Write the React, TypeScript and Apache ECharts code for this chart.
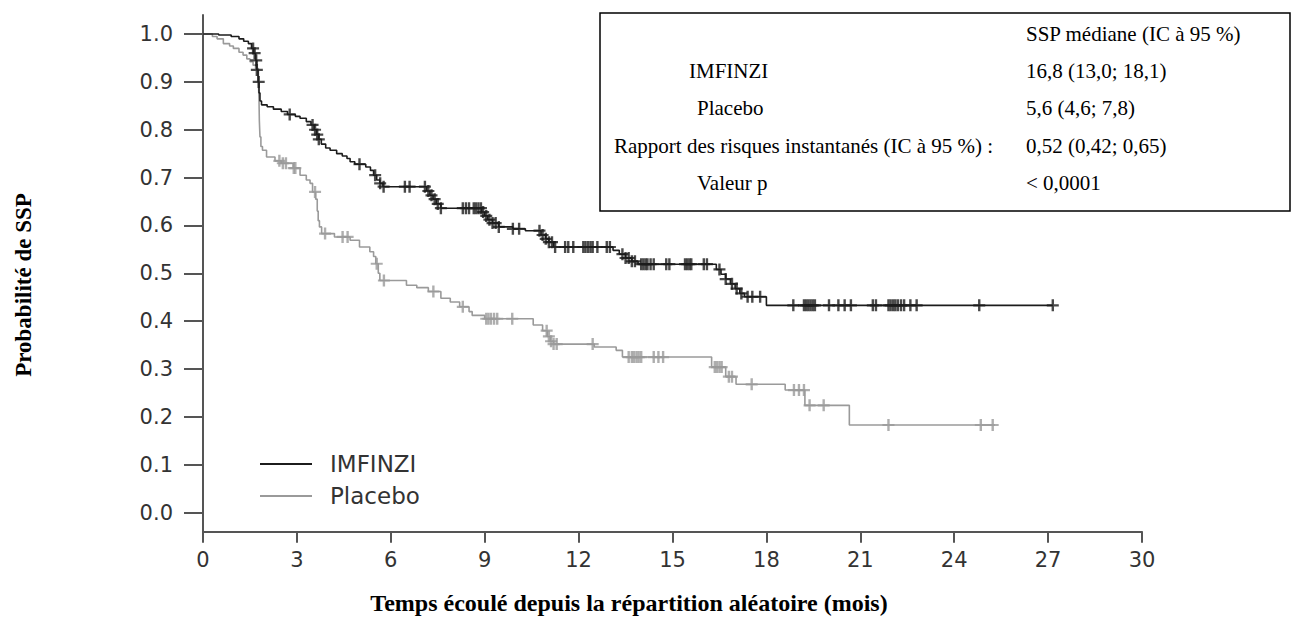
import React, { useEffect, useRef } from "react";
import * as echarts from "echarts";

// ---------- data ----------
const seriesNames = ["IMFINZI", "Placebo"];

const imfTime = [0, 0.5, 0.9, 1.15, 1.3, 1.45, 1.55, 1.62, 1.68, 1.72, 1.76, 1.79, 1.82, 1.87, 2.05, 2.25, 2.5, 2.7, 2.95, 3.1, 3.3, 3.45, 3.55, 3.63, 3.7, 3.78, 3.92, 4.06, 4.27, 4.45, 4.6, 4.7, 4.85, 5.2, 5.35, 5.45, 5.55, 5.65, 5.75, 7.15, 7.25, 7.35, 7.45, 7.6, 8.9, 9.0, 9.1, 9.25, 9.45, 9.9, 10.3, 10.8, 10.95, 11.05, 11.2, 13.1, 13.3, 13.5, 13.7, 13.9, 16.4, 16.55, 16.7, 16.85, 17.0, 17.15, 17.3, 18.0, 27.15];
const imfSurv = [1.0, 0.998, 0.995, 0.99, 0.985, 0.98, 0.97, 0.96, 0.945, 0.925, 0.9, 0.877, 0.86, 0.852, 0.848, 0.843, 0.838, 0.832, 0.828, 0.824, 0.817, 0.81, 0.8, 0.79, 0.78, 0.77, 0.762, 0.757, 0.75, 0.745, 0.74, 0.733, 0.728, 0.722, 0.715, 0.705, 0.695, 0.688, 0.681, 0.672, 0.663, 0.655, 0.645, 0.636, 0.628, 0.62, 0.612, 0.605, 0.597, 0.593, 0.589, 0.58, 0.572, 0.565, 0.555, 0.548, 0.54, 0.532, 0.525, 0.519, 0.508, 0.498, 0.488, 0.478, 0.468, 0.458, 0.451, 0.433, 0.433];
const imfCensor = [1.6, 1.65, 1.7, 1.72, 1.78, 2.77, 3.5, 3.58, 3.65, 3.7, 5.0, 5.5, 5.66, 5.77, 6.45, 6.6, 7.09, 7.2, 7.3, 7.4, 7.5, 7.6, 8.3, 8.4, 8.5, 8.65, 8.72, 8.8, 8.88, 8.95, 9.05, 9.15, 9.25, 9.35, 9.45, 9.9, 10.1, 10.75, 10.85, 10.95, 11.05, 11.15, 11.25, 11.57, 11.67, 11.83, 12.15, 12.22, 12.3, 12.38, 12.45, 12.6, 12.9, 13.0, 13.4, 13.5, 13.6, 13.7, 13.8, 14.0, 14.07, 14.14, 14.2, 14.3, 14.4, 14.8, 14.9, 15.4, 15.47, 15.54, 15.6, 16.0, 16.1, 16.5, 16.7, 16.9, 17.05, 17.2, 17.4, 17.55, 17.8, 18.86, 19.2, 19.27, 19.34, 19.41, 19.48, 19.55, 20.0, 20.3, 20.5, 20.7, 21.4, 21.5, 21.9, 21.97, 22.05, 22.12, 22.2, 22.3, 22.4, 22.6, 22.8, 24.8, 27.15];

const plaTime = [0, 0.3, 0.45, 0.65, 0.85, 0.97, 1.15, 1.28, 1.4, 1.5, 1.6, 1.68, 1.77, 1.79, 1.8, 1.82, 1.85, 1.9, 2.03, 2.3, 2.5, 2.88, 3.1, 3.3, 3.42, 3.5, 3.6, 3.65, 3.68, 3.72, 3.79, 4.2, 4.7, 5.0, 5.33, 5.45, 5.52, 5.6, 5.65, 6.5, 6.83, 7.2, 7.6, 7.9, 8.2, 8.5, 8.6, 9.0, 10.55, 10.85, 11.0, 11.1, 11.2, 12.5, 13.2, 13.4, 16.25, 16.7, 17.03, 18.6, 19.23, 20.65, 25.3];
const plaSurv = [1.0, 0.995, 0.99, 0.98, 0.975, 0.97, 0.962, 0.956, 0.948, 0.942, 0.935, 0.928, 0.9, 0.86, 0.82, 0.785, 0.765, 0.757, 0.743, 0.735, 0.73, 0.72, 0.705, 0.695, 0.688, 0.67, 0.655, 0.63, 0.61, 0.597, 0.583, 0.576, 0.569, 0.555, 0.545, 0.535, 0.52, 0.5, 0.485, 0.475, 0.47, 0.462, 0.448, 0.44, 0.43, 0.42, 0.412, 0.405, 0.392, 0.38, 0.368, 0.358, 0.352, 0.346, 0.339, 0.325, 0.304, 0.284, 0.268, 0.256, 0.224, 0.183, 0.183];
const plaCensor = [2.44, 2.55, 2.65, 2.9, 2.95, 3.58, 3.9, 4.46, 4.62, 5.55, 5.78, 7.36, 8.3, 9.05, 9.12, 9.2, 9.3, 9.4, 9.88, 10.98, 11.05, 11.12, 11.2, 11.3, 12.45, 13.6, 13.7, 13.77, 13.85, 13.92, 14.0, 14.4, 14.55, 14.7, 16.35, 16.42, 16.5, 16.57, 16.8, 16.9, 17.53, 18.88, 19.04, 19.2, 19.38, 19.83, 21.9, 24.85, 25.23];

const yTicks = [0, 0.1, 0.2, 0.3, 0.4, 0.5, 0.6, 0.7, 0.8, 0.9, 1.0];

const boxHeader = "SSP médiane (IC à 95 %)";
const boxLeftLabels = ["IMFINZI", "Placebo", "Rapport des risques instantanés (IC à 95 %) :", "Valeur p"];
const boxValues = ["16,8 (13,0; 18,1)", "5,6 (4,6; 7,8)", "0,52 (0,42; 0,65)", "< 0,0001"];

const xTitle = "Temps écoulé depuis la répartition aléatoire (mois)";
const yTitle = "Probabilité de SSP";

// ---------- helpers ----------
const stepAt = (times: number[], surv: number[], t: number) => {
  let s = surv[0];
  for (let i = 0; i < times.length; i++) if (times[i] <= t) s = surv[i];
  return s;
};
const pairs = (times: number[], surv: number[]) => times.map((t, i) => [t, surv[i]]);
const censorPts = (c: number[], times: number[], surv: number[]) => c.map((t) => [t, stepAt(times, surv, t)]);

const COLORS = ["#1c1c1c", "#9a9a9a"];
const AXIS = "#555555";
const PLUS = "path://M4.8,0H7.2V4.9H12V7.1H7.2V12H4.8V7.1H0V4.9H4.8Z";

const leftX = [689, 697, 614, 697];
const rowY = [34, 71, 108, 146, 183];

export default function App() {
  const ref = useRef<HTMLDivElement>(null);
  useEffect(() => {
    if (!ref.current) return;
    const chart = echarts.init(ref.current, null, { renderer: "svg" });
    const serif = '"Liberation Serif", "Times New Roman", serif';
    const sans = '"DejaVu Sans", Arial, sans-serif';
    const txt = (x: number, y: number, text: string) => ({
      type: "text", x, y, z: 20,
      style: { text, fontFamily: serif, fontSize: 21, fill: "#000", align: "left", verticalAlign: "middle" },
    });
    const boxTexts: any[] = [txt(1026, rowY[0], boxHeader)];
    boxLeftLabels.forEach((t, i) => {
      boxTexts.push(txt(leftX[i], rowY[i + 1], t));
      boxTexts.push(txt(1026, rowY[i + 1], boxValues[i]));
    });
    const option: any = {
      animation: false,
      backgroundColor: "#ffffff",
      grid: { left: 203, right: 151, top: 14.9, bottom: 103.3, containLabel: false, outerBoundsMode: "none" },
      legend: {
        orient: "vertical",
        left: 255,
        top: 446,
        itemWidth: 52,
        itemHeight: 2,
        itemGap: 6,
        icon: "rect",
        data: seriesNames,
        textStyle: { fontFamily: sans, fontSize: 23, color: "#333", lineHeight: 26, padding: [0, 0, 0, 13] },
      },
      xAxis: {
        type: "value",
        min: 0,
        max: 30,
        interval: 3,
        axisLine: { show: true, onZero: false, lineStyle: { color: AXIS, width: 2 } },
        axisTick: { show: true, length: 11, lineStyle: { color: AXIS, width: 2 } },
        axisLabel: { fontFamily: sans, fontSize: 21, color: "#333", margin: 18 },
        splitLine: { show: false },
      },
      yAxis: {
        type: "value",
        min: -0.04,
        max: 1.04,
        axisLine: { show: true, onZero: false, lineStyle: { color: AXIS, width: 2 } },
        axisTick: { show: true, length: 19, customValues: yTicks, lineStyle: { color: AXIS, width: 2 } },
        axisLabel: { customValues: yTicks, formatter: (v: number) => v.toFixed(1), fontFamily: sans, fontSize: 21, color: "#333", margin: 30 },
        splitLine: { show: false },
      },
      series: [
        {
          name: seriesNames[1], type: "line", step: "end", showSymbol: false, z: 2,
          data: pairs(plaTime, plaSurv), color: COLORS[1],
          lineStyle: { color: COLORS[1], width: 1.6 }, itemStyle: { color: COLORS[1] },
        },
        {
          name: seriesNames[1] + " (censuré)", type: "scatter", symbol: PLUS, symbolSize: [12, 12], z: 2,
          data: censorPts(plaCensor, plaTime, plaSurv), itemStyle: { color: COLORS[1] },
        },
        {
          name: seriesNames[0], type: "line", step: "end", showSymbol: false, z: 3,
          data: pairs(imfTime, imfSurv), color: COLORS[0],
          lineStyle: { color: COLORS[0], width: 1.6 }, itemStyle: { color: COLORS[0] },
        },
        {
          name: seriesNames[0] + " (censuré)", type: "scatter", symbol: PLUS, symbolSize: [12, 12], z: 3,
          data: censorPts(imfCensor, imfTime, imfSurv), itemStyle: { color: COLORS[0] },
        },
      ],
      graphic: [
        { type: "rect", shape: { x: 600, y: 13, width: 690, height: 198 }, style: { fill: "#fff", stroke: "#000", lineWidth: 1.5 }, z: 10 },
        ...boxTexts,
        { type: "text", x: 23, y: 285, rotation: Math.PI / 2, style: { text: yTitle, fontFamily: serif, fontWeight: "bold", fontSize: 23, fill: "#000", align: "center", verticalAlign: "middle" } },
        { type: "text", x: 629, y: 603, style: { text: xTitle, fontFamily: serif, fontWeight: "bold", fontSize: 24, fill: "#000", align: "center", verticalAlign: "middle" } },
      ],
    };
    chart.setOption(option);
    return () => chart.dispose();
  }, []);
  return <div ref={ref} style={{ position: "absolute", left: 0, top: 0, width: 1293, height: 635 }} />;
}
